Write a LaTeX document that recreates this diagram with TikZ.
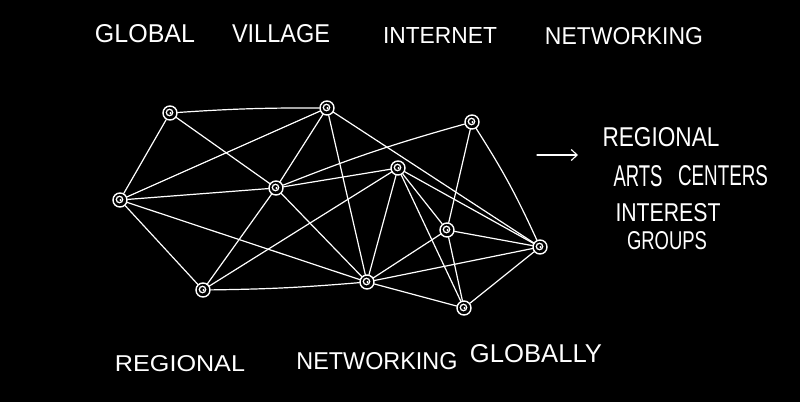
\documentclass[tikz,border=0pt]{standalone}
\usepackage{fontspec}
\setmainfont{Liberation Sans}
\usetikzlibrary{arrows.meta}
\newcommand{\hw}[3]{\resizebox{#1pt}{#2pt}{#3}}
\begin{document}
\begin{tikzpicture}[x=1pt,y=-1pt,
  hub/.style={circle, draw=white, line width=1.4pt, minimum size=14pt, inner sep=0pt,
    path picture={\draw[white,line width=1.3pt] ([xshift=-0.5pt,yshift=0.5pt]path picture bounding box.center) circle (3.2pt);
                  \fill[white] ([xshift=0.5pt]path picture bounding box.center) circle (1.2pt);}},
  link/.style={draw=white, line width=1.2pt, line cap=round},
  lbl/.style={text=white, inner sep=0pt, font=\normalsize}]
\path[fill=black] (0,0) rectangle (800,402);
\useasboundingbox (0,0) rectangle (800,402);
% nodes
\node[hub] (A) at (170,113) {};
\node[hub] (B) at (327,108) {};
\node[hub] (C) at (472,122) {};
\node[hub] (D) at (120,200) {};
\node[hub] (E) at (276,188) {};
\node[hub] (F) at (398,168) {};
\node[hub] (G) at (447,230) {};
\node[hub] (H) at (540,247) {};
\node[hub] (I) at (203,290) {};
\node[hub] (J) at (367,282) {};
\node[hub] (K) at (464,308) {};
% connectors
\foreach \a/\b in {A/E,A/D,D/B,D/E,D/I,D/J,E/B,E/F,E/I,E/J,B/J,B/H,I/F,F/J,F/G,F/H,F/K,C/G,G/H,G/J,G/K,H/J,H/K,J/K}
  \draw[link] (\a) -- (\b);
\draw[link] (A) to[bend left=2] (B);
\draw[link] (E) to[bend left=3] (C);
\draw[link] (C) to[bend left=4] (H);
\draw[link] (I) to[bend right=2] (J);
% arrow
\coordinate (ar1) at (537,155);
\coordinate (ar2) at (578,155);
\draw[link, -{Straight Barb[length=6pt,width=11pt,line width=1.1pt]}] (ar1) -- (ar2);
% title
\node[lbl] (t1) at (145,34) {\hw{100}{18}{GLOBAL}};
\node[lbl] (t2) at (281,34) {\hw{98}{18}{VILLAGE}};
\node[lbl] (t3) at (440,35) {\hw{114}{16}{INTERNET}};
\node[lbl] (t4) at (624,36) {\hw{158}{17}{NETWORKING}};
% right labels
\node[lbl] (r1) at (661,137) {\hw{117}{19}{REGIONAL}};
\node[lbl] (r2) at (638,176) {\hw{49}{21}{ARTS}};
\node[lbl] (r3) at (723,176) {\hw{90}{20}{CENTERS}};
\node[lbl] (r4) at (668,213) {\hw{105}{18}{INTEREST}};
\node[lbl] (r5) at (667,241) {\hw{80}{18}{GROUPS}};
% bottom
\node[lbl] (b1) at (180,364) {\hw{130}{16}{REGIONAL}};
\node[lbl] (b2) at (377,361) {\hw{161}{17}{NETWORKING}};
\node[lbl] (b3) at (536,354) {\hw{132}{18}{GLOBALLY}};
\end{tikzpicture}
\end{document}
